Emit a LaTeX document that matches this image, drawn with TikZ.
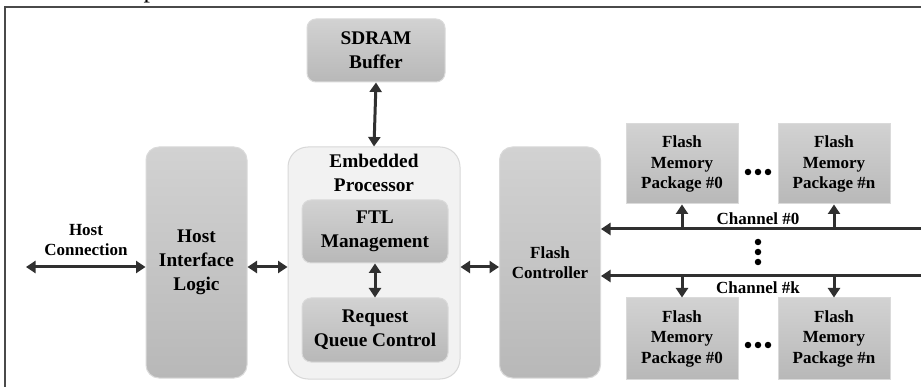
\documentclass[tikz,border=0pt]{standalone}
\usepackage{fontspec}
\setmainfont{Liberation Serif}
\usetikzlibrary{arrows.meta}
\definecolor{boxtop}{HTML}{D2D2D2}
\definecolor{boxbot}{HTML}{B8B8B8}
\definecolor{boxedge}{HTML}{DADADA}
\definecolor{procfill}{HTML}{F2F2F2}
\definecolor{procedge}{HTML}{D8D8D8}
\definecolor{ink}{HTML}{303030}
\definecolor{framec}{HTML}{4A4A4A}
\tikzset{
  bigfont/.style={font=\bfseries\fontsize{19.3}{24}\selectfont},
  smallfont/.style={font=\bfseries\fontsize{17}{20.5}\selectfont},
  grayblock/.style={draw=boxedge, line width=1pt, top color=boxtop, bottom color=boxbot,
    align=center, inner sep=0pt},
  roundblock/.style={grayblock, rounded corners=9pt},
  tallblock/.style={grayblock, rounded corners=13pt, minimum width=101pt, minimum height=231pt},
  package/.style={grayblock, smallfont, minimum width=112pt, minimum height=80pt},
  procbox/.style={draw=procedge, line width=1pt, fill=procfill, rounded corners=20pt,
    minimum width=172pt, minimum height=232pt},
  link/.style={draw=ink, line width=3pt, {Triangle[length=9.5pt,width=12pt]}-{Triangle[length=9.5pt,width=12pt]}},
  onelink/.style={draw=ink, line width=3pt, -{Triangle[length=9.5pt,width=12pt]}},
  dot/.style={circle, fill=black, inner sep=0pt, minimum size=6.5pt},
}
\begin{document}
\begin{tikzpicture}[x=1pt, y=-1pt]
\useasboundingbox (0,0) rectangle (921,387);
\fill[white] (0,0) rectangle (921,387);

% heading above the frame, mostly beyond the page edge
\begin{scope}
  \clip (0,0) rectangle (921,387);
  \node[anchor=base, inner sep=0pt, font=\fontsize{26}{26}\selectfont] (titlefrag) at (150,-2.5) {p};
\end{scope}

% outer frame
\draw[framec, line width=1.6pt] (5,387) -- (5,7) -- (921,7);

% blocks
\node[procbox] (emb) at (374,263) {};
\node[bigfont, align=center] (emblabel) at (374,172.5) {Embedded\\Processor};
\node[roundblock, bigfont, minimum width=138pt, minimum height=63pt] (sdram) at (376,50.5) {SDRAM\\Buffer};
\node[roundblock, bigfont, minimum width=146pt, minimum height=63pt] (ftl) at (375,231.5) {FTL\\Management};
\node[roundblock, bigfont, minimum width=146pt, minimum height=64pt] (rqc) at (375,330) {Request\\Queue Control};
\node[tallblock, bigfont] (hil) at (196.5,262.5) {Host\\Interface\\Logic};
\node[tallblock, smallfont] (fc) at (550,262.5) {Flash\\Controller};

\node[package] (ta) at (682,164) {Flash\\Memory\\Package \#0};
\node[package] (tb) at (834,164) {Flash\\Memory\\Package \#n};
\node[package, minimum height=81pt] (ba) at (682,338.5) {Flash\\Memory\\Package \#0};
\node[package, minimum height=81pt] (bb) at (834,338.5) {Flash\\Memory\\Package \#n};

% labels
\node[smallfont, align=center, font=\bfseries\fontsize{17}{20}\selectfont] (hostlbl) at (86,240) {Host\\Connection};
\node[smallfont] (ch0) at (758,219) {Channel \#0};
\node[smallfont] (chk) at (758,288) {Channel \#k};

% free ends
\coordinate (hostend) at (26,267);
\coordinate (c0end) at (921,229);
\coordinate (ckend) at (921,276);
\coordinate (c0a) at (682,229);
\coordinate (c0b) at (834,229);
\coordinate (cka) at (682,276);
\coordinate (ckb) at (834,276);

% connectors
\draw[link] (sdram.south) -- (emb.north);
\draw[link] (ftl.south) -- (rqc.north);
\draw[link] (hostend) -- (hil.west |- hostend);
\draw[link] (hil.east |- hostend) -- (emb.west |- hostend);
\draw[link] (emb.east |- hostend) -- (fc.west |- hostend);
\draw[onelink] (c0end) -- (fc.east |- c0end);
\draw[onelink] (ckend) -- (fc.east |- ckend);
\draw[onelink] (c0a) -- (ta.south);
\draw[onelink] (c0b) -- (tb.south);
\draw[onelink] (cka) -- (ba.north);
\draw[onelink] (ckb) -- (bb.north);

% ellipsis dots
\foreach \i/\x in {1/748,2/758,3/768} {
  \node[dot] (hd\i) at (\x,172) {};
  \node[dot] (ld\i) at (\x,345) {};
}
\foreach \i/\y in {1/242,2/252,3/262} {
  \node[dot] (vd\i) at (758,\y) {};
}
\end{tikzpicture}
\end{document}
